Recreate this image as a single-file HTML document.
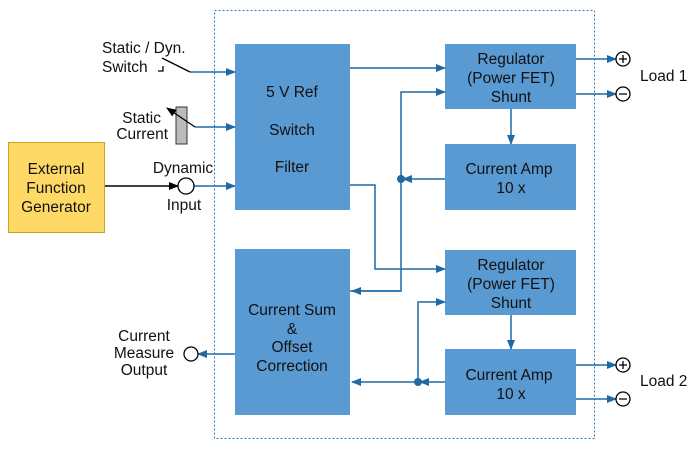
<!DOCTYPE html><html><head><style>body{margin:0;background:#fff}</style></head><body>
<svg width="698" height="444" viewBox="0 0 698 444" xmlns="http://www.w3.org/2000/svg" font-family="Liberation Sans, sans-serif" font-size="15.5" fill="#111">
<defs><marker id="a" markerWidth="10" markerHeight="10" refX="9" refY="5" orient="auto" markerUnits="userSpaceOnUse"><path d="M0,1 L10,5 L0,9z" fill="#1f6aa5"/></marker>
<marker id="k" markerWidth="10" markerHeight="10" refX="9" refY="5" orient="auto" markerUnits="userSpaceOnUse"><path d="M0,1 L10,5 L0,9z" fill="#000"/></marker></defs>
<rect x="214.5" y="10.5" width="380" height="428" fill="none" stroke="#2e75b6" stroke-dasharray="2,2"/>
<g fill="#5a9ad3">
<rect x="235" y="44" width="115" height="166"/><rect x="235" y="249" width="115" height="166"/>
<rect x="445" y="44" width="131" height="65"/><rect x="445" y="144" width="131" height="66"/>
<rect x="445" y="250" width="131" height="65"/><rect x="445" y="349" width="131" height="66"/></g>
<rect x="8.5" y="142.5" width="96" height="90" fill="#ffd966" stroke="#c9a227"/>
<g fill="none" stroke="#1f6aa5" stroke-width="1.5">
<path d="M350,68H445" marker-end="url(#a)"/>
<path d="M350,291H401V92H445" marker-end="url(#a)"/><path d="M401,291H352" marker-end="url(#a)"/>
<path d="M445,179H403" marker-end="url(#a)"/>
<path d="M350,185H375V269H445" marker-end="url(#a)"/>
<path d="M418,382V302H445" marker-end="url(#a)"/>
<path d="M445,382H420" marker-end="url(#a)"/><path d="M418,382H352" marker-end="url(#a)"/>
<path d="M511,109V144" marker-end="url(#a)"/><path d="M511,315V349" marker-end="url(#a)"/>
<path d="M576,59H616" marker-end="url(#a)"/><path d="M576,94H616" marker-end="url(#a)"/>
<path d="M576,365H616" marker-end="url(#a)"/><path d="M576,399H616" marker-end="url(#a)"/>
<path d="M190,72H235" marker-end="url(#a)"/><path d="M195,127H235" marker-end="url(#a)"/>
<path d="M194,186H235" marker-end="url(#a)"/><path d="M235,354H198" marker-end="url(#a)"/>
</g>
<circle cx="401" cy="179" r="4" fill="#1f6aa5"/><circle cx="418" cy="382" r="4" fill="#1f6aa5"/>
<path d="M162,58L190,72M158,71H163V66" fill="none" stroke="#000" stroke-width="1.3"/>
<rect x="176" y="107" width="11" height="37" fill="#bbb" stroke="#333"/>
<path d="M195,127L167,108" fill="none" stroke="#000" stroke-width="1.3" marker-end="url(#k)"/>
<path d="M105,186H178" stroke="#000" stroke-width="1.5" marker-end="url(#k)"/>
<g fill="#fff" stroke="#000" stroke-width="1.3"><circle cx="186" cy="186" r="8"/><circle cx="191" cy="354" r="7"/>
<circle cx="623" cy="59" r="7"/><circle cx="623" cy="94" r="7"/><circle cx="623" cy="365" r="7"/><circle cx="623" cy="399" r="7"/></g>
<path d="M619,59h8M623,55v8M619,94h8M619,365h8M623,361v8M619,399h8" stroke="#000" stroke-width="1.3"/>
<g text-anchor="middle">
<text x="292" y="97">5 V Ref</text><text x="292" y="135">Switch</text><text x="292" y="172">Filter</text>
<text x="292" y="315">Current Sum</text><text x="292" y="334">&amp;</text><text x="292" y="352">Offset</text><text x="292" y="371">Correction</text>
<text x="511" y="64">Regulator</text><text x="511" y="83">(Power FET)</text><text x="511" y="102">Shunt</text>
<text x="509" y="174">Current Amp</text><text x="511" y="193">10 x</text>
<text x="511" y="270">Regulator</text><text x="511" y="289">(Power FET)</text><text x="511" y="308">Shunt</text>
<text x="509" y="380">Current Amp</text><text x="511" y="399">10 x</text>
<text x="56" y="174">External</text><text x="56" y="193">Function</text><text x="56" y="212">Generator</text>
<text x="183" y="173">Dynamic</text><text x="184" y="210">Input</text>
<text x="144" y="341">Current</text><text x="144" y="358">Measure</text><text x="144" y="375">Output</text>
</g>
<text x="102" y="53">Static / Dyn.</text><text x="102" y="72">Switch</text>
<g text-anchor="end"><text x="161" y="123">Static</text><text x="168" y="139">Current</text></g>
<text x="640" y="81">Load 1</text><text x="640" y="386">Load 2</text>
</svg></body></html>
